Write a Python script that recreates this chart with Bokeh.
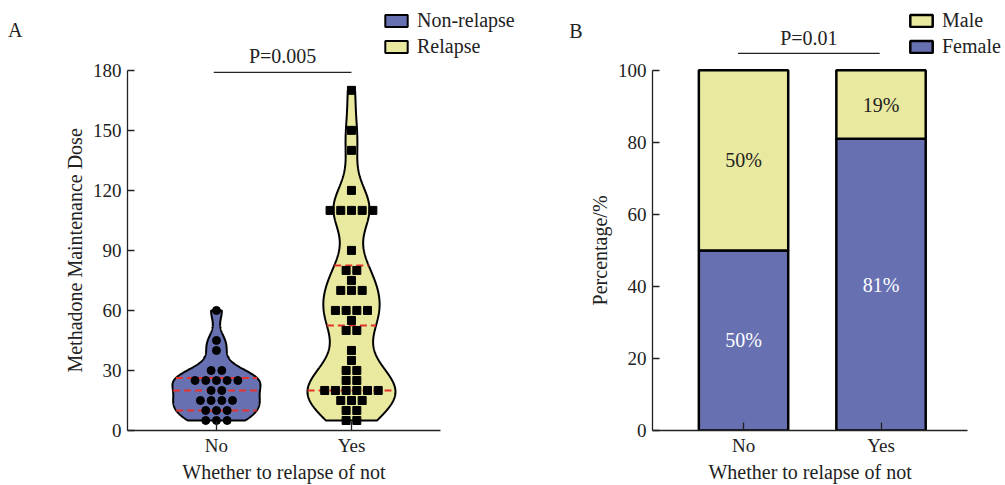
import numpy as np
from bokeh.plotting import figure
from bokeh.layouts import row
from bokeh.models import (FixedTicker, Legend, LegendItem, Label, Range1d,
                          ColumnDataSource, LinearAxis)
from bokeh.core.properties import value
from bokeh.embed import file_html
from bokeh.resources import INLINE

# ---------------- data ----------------
groups = ["No", "Yes"]
dose_no = [60, 45, 40, 30, 30, 25, 25, 25, 25, 25, 20, 20,
           15, 15, 15, 15, 10, 10, 10, 5, 5, 5]
dose_yes = [170, 150, 140, 120, 110, 110, 110, 110, 110, 90, 80, 80, 75,
            70, 70, 70, 60, 60, 60, 60, 55, 50, 50, 40, 35, 30, 30, 25, 25,
            20, 20, 20, 20, 20, 20, 15, 15, 15, 10, 10, 5, 5]
legend_a = ["Non-relapse", "Relapse"]
p_text_a = "P=0.005"
y_title_a = "Methadone Maintenance Dose"
y_ticks_a = [0, 30, 60, 90, 120, 150, 180]

sex_labels = ["Male", "Female"]
female_pct = [50, 81]
male_pct = [50, 19]
p_text_b = "P=0.01"
y_title_b = "Percentage/%"
y_ticks_b = [0, 20, 40, 60, 80, 100]

panel_tags = ["A", "B"]
x_title = "Whether to relapse of not"

# ---------------- style / geometry ----------------
BLUE = "#6771b2"
YELLOW = "#e9e9a0"
RED = "#e4332d"
INK = "#222222"
FONT = "Liberation Serif"
H = 485
BOTTOM = 54            # px below the x axis
AXIS_H = 361           # px from 0 to the top tick
BASE = H - BOTTOM      # page y of the x axis (431)


def text_axis(p, side, pos, text, standoff, size="20px", orient="horizontal"):
    ax = LinearAxis(ticker=FixedTicker(ticks=[pos]),
                    major_label_overrides={pos: text},
                    axis_line_color=None, major_tick_line_color=None,
                    minor_tick_line_color=None, major_tick_in=0, major_tick_out=0,
                    major_label_standoff=standoff,
                    major_label_orientation=orient,
                    major_label_text_font=FONT, major_label_text_font_size=size,
                    major_label_text_color=INK)
    p.add_layout(ax, side)


def style(p, ymax, yticks, xb):
    p.outline_line_color = None
    p.xgrid.grid_line_color = None
    p.ygrid.grid_line_color = None
    p.xaxis.ticker = FixedTicker(ticks=[1, 2])
    p.xaxis.major_label_overrides = {1: groups[0], 2: groups[1]}
    p.xaxis.bounds = xb
    p.yaxis.ticker = FixedTicker(ticks=yticks)
    p.yaxis.bounds = (0, ymax)
    for ax in (p.xaxis, p.yaxis):
        ax.axis_line_width = 1.3
        ax.axis_line_color = INK
        ax.major_tick_line_color = INK
        ax.major_tick_line_width = 1.3
        ax.major_tick_out = 0
        ax.minor_tick_line_color = None
        ax.major_label_text_font = FONT
        ax.major_label_text_font_size = "19px"
        ax.major_label_text_color = INK
    p.xaxis.major_tick_in = 9
    p.yaxis.major_tick_in = 7
    p.xaxis.major_label_standoff = 4
    p.yaxis.major_label_standoff = 6


def y_of(page_y, ymax):
    return (BASE - page_y) * ymax / AXIS_H


# ---------------- panel A ----------------
PXA = 135.0
xa0, xa1 = 0.341, 2.659
wA = 560
pA = figure(width=wA, height=H, title=None,
            x_range=Range1d(xa0, xa0 + (wA - 127) / PXA),
            y_range=Range1d(0, y_of(0, 180)),
            output_backend="svg", toolbar_location=None,
            min_border_left=127, min_border_right=0, min_border_top=0,
            min_border_bottom=BOTTOM)
style(pA, 180, y_ticks_a, (xa0, xa1))
text_axis(pA, "left", 90, y_title_a, 3, orient="vertical")
text_axis(pA, "left", 200, panel_tags[0], 39)
xcA = round((xa0 + xa1) / 2, 3)
text_axis(pA, "below", xcA, x_title, 2)

HALF = 44.0 / PXA
STEP = 10.7 / PXA


def kde(vals, h, n=400):
    v = np.asarray(vals, float)
    ys = np.linspace(v.min(), v.max(), n)
    d = np.exp(-0.5 * ((ys[:, None] - v[None, :]) / h) ** 2).sum(1)
    return ys, d / d.max()


def swarm(vals, step):
    v = np.asarray(vals, float)
    xs = np.zeros_like(v)
    for u in np.unique(v):
        idx = np.where(v == u)[0]
        n = len(idx)
        xs[idx] = (np.arange(n) - (n - 1) / 2) * step
    return xs


violins = []
for i, (vals, col, bw, marker) in enumerate([(dose_no, BLUE, 5.0, "circle"),
                                             (dose_yes, YELLOW, 10.5, "square")]):
    c = i + 1
    ys, d = kde(vals, bw)
    half = d * HALF
    xs = np.concatenate([c + half, (c - half)[::-1]])
    yy = np.concatenate([ys, ys[::-1]])
    r = pA.patch(xs, yy, fill_color=col, line_color="black", line_width=2)
    violins.append(r)
    q = np.percentile(np.asarray(vals, float), [25, 50, 75], method="weibull")
    hw = np.interp(q, ys, half)
    pA.segment(x0=c - hw, x1=c + hw, y0=q, y1=q, line_color=RED,
               line_width=2, line_dash="7 4")
    pA.scatter(c + swarm(vals, STEP), vals, marker=marker, size=8,
               fill_color="black", line_color="black")

legA = Legend(items=[LegendItem(label=legend_a[0], renderers=[violins[0]]),
                     LegendItem(label=legend_a[1], renderers=[violins[1]])],
              location=(255, 372), glyph_width=28, glyph_height=15,
              label_text_font=FONT, label_text_font_size="20px",
              label_text_color=INK, spacing=3, padding=0, margin=0,
              label_standoff=7, border_line_color=None, background_fill_alpha=0)
pA.add_layout(legA)

yl = y_of(72, 180)
pA.segment(x0=[0.98], x1=[2.0], y0=[yl], y1=[yl], line_color=INK, line_width=1.3)
pA.add_layout(Label(x=1.49, y=y_of(56, 180), text=p_text_a,
                    text_align="center", text_baseline="alphabetic",
                    text_font=FONT, text_font_size="20px", text_color=INK))

# ---------------- panel B ----------------
PXB = 137.5
xb0, xb1 = 0.338, 2.63
wB = 443
lbB = 652 - wA
pB = figure(width=wB, height=H, title=None,
            x_range=Range1d(xb0, xb0 + (wB - lbB) / PXB),
            y_range=Range1d(0, y_of(0, 100)),
            output_backend="svg", toolbar_location=None,
            min_border_left=lbB, min_border_right=0, min_border_top=0,
            min_border_bottom=BOTTOM)
style(pB, 100, y_ticks_b, (xb0, xb1))
pB.xaxis.major_tick_in = 8
text_axis(pB, "left", 50, y_title_b, 3, orient="vertical")
text_axis(pB, "left", 111, panel_tags[1], 4)
xcB = round((xb0 + xb1) / 2, 3)
text_axis(pB, "below", xcB, x_title, 2)

xs_b = [1, 2]
top_b = [f + m for f, m in zip(female_pct, male_pct)]
srcB = ColumnDataSource(dict(x=xs_b, f=female_pct, t=top_b))
rF = pB.vbar(x="x", width=0.65, bottom=0, top="f", source=srcB,
             fill_color=BLUE, line_color="black", line_width=2.5)
rM = pB.vbar(x="x", width=0.65, bottom="f", top="t", source=srcB,
             fill_color=YELLOW, line_color="black", line_width=2.5)

lab_src = ColumnDataSource(dict(
    x=xs_b + xs_b,
    y=[f / 2 for f in female_pct] + [f + m / 2 for f, m in zip(female_pct, male_pct)],
    t=[f"{v}%" for v in female_pct] + [f"{v}%" for v in male_pct],
    c=["white", "white", INK, INK]))
pB.text(x="x", y="y", text="t", text_color="c", source=lab_src,
        text_align="center", text_baseline="middle",
        text_font=value(FONT), text_font_size="20px")

legB = Legend(items=[LegendItem(label=sex_labels[0], renderers=[rM]),
                     LegendItem(label=sex_labels[1], renderers=[rF])],
              location=(255, 372), glyph_width=28, glyph_height=15,
              label_text_font=FONT, label_text_font_size="20px",
              label_text_color=INK, spacing=3, padding=0, margin=0,
              label_standoff=7, border_line_color=None, background_fill_alpha=0)
pB.add_layout(legB)

yb = y_of(53, 100)
pB.segment(x0=[0.96], x1=[1.99], y0=[yb], y1=[yb], line_color=INK, line_width=1.3)
pB.add_layout(Label(x=1.475, y=y_of(38, 100), text=p_text_b,
                    text_align="center", text_baseline="alphabetic",
                    text_font=FONT, text_font_size="20px", text_color=INK))

layout = row(pA, pB)
open("out.html", "w").write(file_html(layout, INLINE))
